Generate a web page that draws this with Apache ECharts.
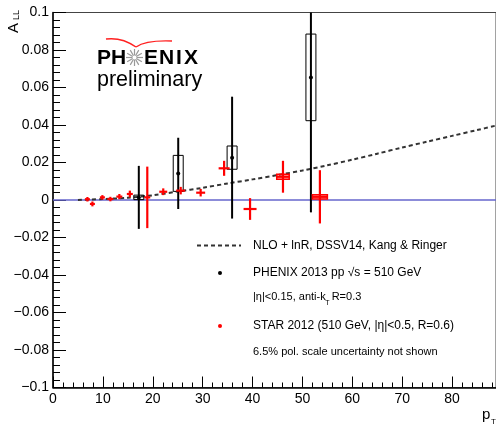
<!DOCTYPE html>
<html>
<head>
<meta charset="utf-8">
<script src="https://cdn.jsdelivr.net/npm/echarts@6/dist/echarts.min.js"></script>
<style>
  html, body { margin: 0; padding: 0; background: #fff; }
  #chart { width: 496px; height: 427px; }
</style>
</head>
<body>
<div id="chart"></div>
<script>
// NLO theory curve (dashed)
var theoryPt  = [5, 10, 15, 20, 25, 30, 35, 40, 45, 50, 55, 60, 65, 70, 75, 80, 85, 88.8];
var theoryAll = [0, 0.0005, 0.0012, 0.0025, 0.0045, 0.0065, 0.0088, 0.011, 0.0133, 0.0157,
                 0.0185, 0.0215, 0.0247, 0.028, 0.0311, 0.0342, 0.0373, 0.0397];

// PHENIX 2013: pT, A_LL, stat error, systematic half height
var phenixPt   = [17.2, 25.1, 35.9, 51.7];
var phenixAll  = [0.0014, 0.0142, 0.0226, 0.0654];
var phenixStat = [0.0168, 0.019, 0.0325, 0.072];
var phenixSys  = [0.0012, 0.0096, 0.0062, 0.0231];

// STAR 2012: pT, A_LL, stat error, pT half width, systematic half height
var starPt   = [6.9, 7.9, 9.9, 11.5, 13.3, 15.4, 18.9, 22.1, 25.6, 29.6, 34.3, 39.5, 46.1, 53.5];
var starAll  = [0.0004, -0.0021, 0.0014, 0.0005, 0.0018, 0.0032, 0.0014, 0.0044, 0.005, 0.0039,
                0.0169, -0.0048, 0.0124, 0.0017];
var starStat = [0.0012, 0.0013, 0.0012, 0.0012, 0.0014, 0.0018, 0.0164, 0.0018, 0.002, 0.002,
                0.004, 0.0058, 0.0085, 0.0142];
var starXerr = [0.5, 0.5, 0.5, 0.6, 0.6, 0.6, 0.6, 0.8, 0.9, 0.9, 1.1, 1.3, 1.2, 1.5];
var starSys  = [0, 0, 0, 0, 0, 0, 0, 0, 0, 0, 0, 0, 0.00135, 0.0011];
var starSysW = [0, 0, 0, 0, 0, 0, 0, 0, 0, 0, 0, 0, 1.25, 1.5];

var yTickMin = -0.1, yTickMax = 0.1, yStep = 0.02;
var xMax = 88.8, xStep = 10;

var FONT = "'Liberation Sans', Arial, Helvetica, sans-serif";
var PHENIX_BOX_W = 1.0;

var chart = echarts.init(document.getElementById('chart'), null, {renderer: 'canvas'});

function renderPhenix(params, api) {
  var x = api.value(0), y = api.value(1), e = api.value(2), s = api.value(3);
  var top = api.coord([x, Math.min(y + e, yTickMax)]);
  var bot = api.coord([x, Math.max(y - e, yTickMin)]);
  var c = api.coord([x, y]);
  var b1 = api.coord([x - PHENIX_BOX_W, y + s]);
  var b2 = api.coord([x + PHENIX_BOX_W, y - s]);
  return {
    type: 'group',
    children: [
      {type: 'rect', shape: {x: b1[0], y: b1[1], width: b2[0] - b1[0], height: b2[1] - b1[1]},
       style: {fill: 'none', stroke: '#000', lineWidth: 1}},
      {type: 'line', shape: {x1: top[0], y1: top[1], x2: bot[0], y2: bot[1]},
       style: {stroke: '#000', lineWidth: 2}},
      {type: 'circle', shape: {cx: c[0], cy: c[1], r: 2}, style: {fill: '#000'}}
    ]
  };
}

function renderStar(params, api) {
  var x = api.value(0), y = api.value(1), e = api.value(2), xe = api.value(3);
  var s = api.value(4), sw = api.value(5);
  var top = api.coord([x, y + e]);
  var bot = api.coord([x, y - e]);
  var lft = api.coord([x - xe, y]);
  var rgt = api.coord([x + xe, y]);
  var children = [];
  if (s > 0) {
    var b1 = api.coord([x - sw, y + s]);
    var b2 = api.coord([x + sw, y - s]);
    children.push({type: 'rect', shape: {x: b1[0], y: b1[1], width: b2[0] - b1[0], height: b2[1] - b1[1]},
                   style: {fill: 'rgba(255,0,0,0.25)', stroke: '#ff0000', lineWidth: 1.5}});
  }
  children.push({type: 'line', shape: {x1: top[0], y1: top[1], x2: bot[0], y2: bot[1]},
                 style: {stroke: '#ff0000', lineWidth: 2.2}});
  children.push({type: 'line', shape: {x1: lft[0], y1: lft[1], x2: rgt[0], y2: rgt[1]},
                 style: {stroke: '#ff0000', lineWidth: 2.2}});
  return {type: 'group', children: children};
}

function yLabel(v) {
  var r = Math.round(v * 1000) / 1000;
  if (r === 0) return '0';
  return (r < 0 ? '\u2212' : '') + String(Math.abs(r));
}

// measure text width so sub-scripts land after the main text
var measureCtx = document.createElement('canvas').getContext('2d');
function textWidth(s, size, extra) {
  measureCtx.font = (extra || '') + ' ' + size + 'px ' + FONT;
  return measureCtx.measureText(s).width;
}

// star burst of the logo
var starRays = [];
for (var k = 0; k < 12; k++) {
  var a = k * Math.PI / 6;
  starRays.push({type: 'line', shape: {x1: 134.5 + 2 * Math.cos(a), y1: 57.5 + 2 * Math.sin(a),
                 x2: 134.5 + 8.5 * Math.cos(a), y2: 57.5 + 8.5 * Math.sin(a)},
                 style: {stroke: '#999', lineWidth: 1.2}});
}

function txt(x, y, s, size, extra) {
  var st = {text: s, x: x, y: y, fill: '#000', font: (extra || '') + ' ' + size + 'px ' + FONT,
            verticalAlign: 'middle', align: 'left'};
  return {type: 'text', style: st, z: 100};
}

var logoLetters = [['P', 97], ['H', 111], ['E', 144], ['N', 159], ['I', 176], ['X', 184]];

var graphics = [
  // axis titles
  {type: 'text', x: 14, y: 28, rotation: Math.PI / 2,
   style: {text: 'A', font: '15px ' + FONT, fill: '#000', align: 'center', verticalAlign: 'middle'}},
  {type: 'text', x: 17, y: 15, rotation: Math.PI / 2,
   style: {text: 'LL', font: '9px ' + FONT, fill: '#000', align: 'center', verticalAlign: 'middle'}},
  txt(482, 415, 'p', 15),
  txt(491, 422, 'T', 8),
  // logo
  {type: 'bezierCurve', shape: {x1: 106, y1: 39, cpx1: 122, cpy1: 37, x2: 136, y2: 47},
   style: {stroke: '#ff2020', lineWidth: 1.5, fill: 'none'}},
  {type: 'bezierCurve', shape: {x1: 136, y1: 47, cpx1: 146, cpy1: 40, x2: 172, y2: 41},
   style: {stroke: '#ff2020', lineWidth: 1.5, fill: 'none'}},
  txt(97, 80, 'preliminary', 21.5)
];
logoLetters.forEach(function (l) { graphics.push(txt(l[1], 58, l[0], 21, 'bold')); });
graphics = graphics.concat(starRays);

// legend
var etaText = '|\u03b7|<0.15, anti-k';
var etaW = textWidth(etaText, 11);
graphics.push({type: 'line', shape: {x1: 197, y1: 245.5, x2: 241, y2: 245.5},
               style: {stroke: '#333', lineWidth: 2, lineDash: [4, 3]}});
graphics.push(txt(253, 245.5, 'NLO + lnR, DSSV14, Kang & Ringer', 12));
graphics.push({type: 'circle', shape: {cx: 220, cy: 273, r: 2}, style: {fill: '#000'}});
graphics.push(txt(253, 273, 'PHENIX 2013 pp \u221As = 510 GeV', 12));
graphics.push(txt(253, 297, etaText, 11));
graphics.push(txt(253 + etaW - 0.5, 303.5, 'T', 7));
graphics.push(txt(253 + etaW + 6, 297, 'R=0.3', 11));
graphics.push({type: 'circle', shape: {cx: 220, cy: 326, r: 2}, style: {fill: '#ff0000'}});
graphics.push(txt(253, 326, 'STAR 2012 (510 GeV, |\u03b7|<0.5, R=0.6)', 12));
graphics.push(txt(253, 352, '6.5% pol. scale uncertainty not shown', 11));

var option = {
  animation: false,
  backgroundColor: '#fff',
  grid: {left: 53, right: -1, top: 12.5, bottom: 39.5, show: true, borderColor: '#444', borderWidth: 1},
  xAxis: {
    type: 'value', min: 0, max: xMax, interval: xStep,
    axisLine: {show: true, onZero: false, lineStyle: {color: '#000', width: 1.5}},
    axisTick: {show: true, inside: true, length: 11, lineStyle: {color: '#000'}},
    minorTick: {show: true, splitNumber: 5, length: 5, lineStyle: {color: '#000'}},
    splitLine: {show: false},
    axisLabel: {showMaxLabel: false, color: '#000', fontSize: 14, fontFamily: FONT, margin: 5}
  },
  yAxis: {
    type: 'value', min: yTickMin, max: yTickMax, interval: yStep,
    axisLine: {show: true, onZero: false, lineStyle: {color: '#000', width: 1.5}},
    axisTick: {show: true, inside: true, length: 13, lineStyle: {color: '#000'}},
    minorTick: {show: true, splitNumber: 5, length: 7, lineStyle: {color: '#000'}},
    splitLine: {show: false},
    axisLabel: {formatter: yLabel, color: '#000', fontSize: 14, fontFamily: FONT, margin: 4}
  },
  graphic: graphics,
  series: [
    {
      type: 'line', silent: true, symbol: 'none', smooth: 0.3, z: 3,
      data: theoryPt.map(function (p, i) { return [p, theoryAll[i]]; }),
      lineStyle: {color: '#333', width: 2, type: [4, 3]},
      markLine: {
        silent: true, symbol: 'none', label: {show: false}, z: 1,
        lineStyle: {color: '#6666cc', type: 'solid', width: 1.5},
        data: [{yAxis: 0}]
      }
    },
    {
      type: 'custom', renderItem: renderPhenix, z: 4,
      data: phenixPt.map(function (p, i) { return [p, phenixAll[i], phenixStat[i], phenixSys[i]]; })
    },
    {
      type: 'custom', renderItem: renderStar, z: 5,
      data: starPt.map(function (p, i) {
        return [p, starAll[i], starStat[i], starXerr[i], starSys[i], starSysW[i]];
      })
    }
  ]
};

chart.setOption(option);
</script>
</body>
</html>
